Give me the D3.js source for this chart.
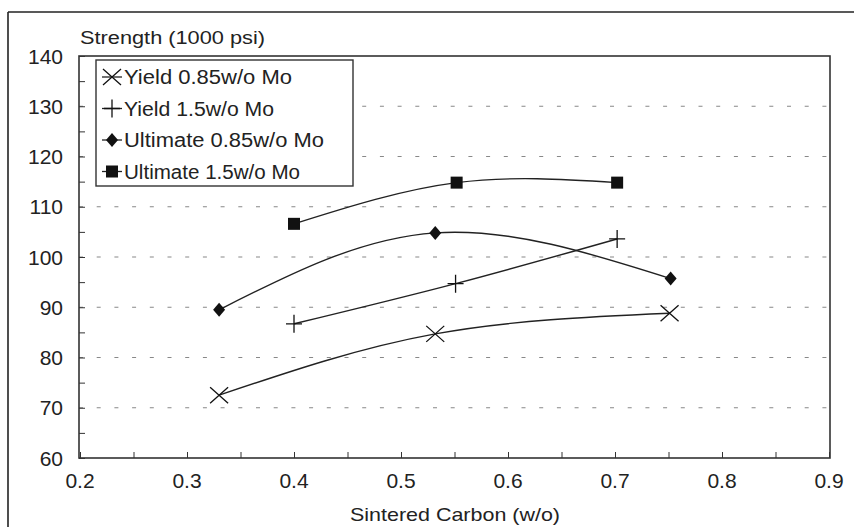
<!DOCTYPE html>
<html>
<head>
<meta charset="utf-8">
<script src="https://cdn.jsdelivr.net/npm/d3@7"></script>
<style>
  body { margin: 0; background: #fff; }
  svg { font-family: "Liberation Sans", Arial, sans-serif; }
</style>
</head>
<body>
<script>
// data
var seriesNames = ["Yield 0.85w/o Mo", "Yield 1.5w/o Mo", "Ultimate 0.85w/o Mo", "Ultimate 1.5w/o Mo"];
var seriesSymbols = ["x", "plus", "diamond", "square"];
var yield085 = [[0.33, 72.5], [0.532, 84.7], [0.751, 88.8]];
var yield15 = [[0.40, 86.7], [0.551, 94.7], [0.702, 103.6]];
var ult085 = [[0.33, 89.5], [0.532, 104.8], [0.752, 95.7]];
var ult15 = [[0.40, 106.6], [0.552, 114.8], [0.702, 114.8]];
var xTicks = [0.2, 0.3, 0.4, 0.5, 0.6, 0.7, 0.8, 0.9];
var yTicks = [60, 70, 80, 90, 100, 110, 120, 130, 140];

var width = 854, height = 527;
var plot = {left: 79, right: 830, top: 56, bottom: 458};

var svg = d3.select("body").append("svg")
  .attr("width", width)
  .attr("height", height);

var x = d3.scaleLinear().domain([0.2, 0.9]).range([80, 829]);
var y = d3.scaleLinear().domain([60, 140]).range([plot.bottom, plot.top]);

// outer frame (top and left only visible)
svg.append("line")
  .attr("x1", 8).attr("y1", 12).attr("x2", width).attr("y2", 12)
  .style("stroke", "#222").style("stroke-width", 1.6);
svg.append("line")
  .attr("x1", 8).attr("y1", 12).attr("x2", 8).attr("y2", height)
  .style("stroke", "#222").style("stroke-width", 1.6);

// dotted gridlines
svg.append("g")
  .selectAll("line")
  .data(yTicks.filter(function(d) { return d > 60 && d < 140; }))
  .enter()
  .append("line")
  .attr("x1", plot.left).attr("x2", plot.right)
  .attr("y1", d => y(d)).attr("y2", d => y(d))
  .style("stroke", "#888")
  .style("stroke-width", 1.2)
  .style("stroke-dasharray", "4,13.7");

// plot frame
svg.append("rect")
  .attr("x", plot.left).attr("y", plot.top)
  .attr("width", plot.right - plot.left)
  .attr("height", plot.bottom - plot.top)
  .style("fill", "none")
  .style("stroke", "#333")
  .style("stroke-width", 1.6);

// axes with inward ticks
var xAxis = d3.axisTop(x)
  .tickValues(d3.range(0.2, 0.9001, 0.05))
  .tickSize(6).tickFormat("");
svg.append("g")
  .attr("transform", "translate(0," + plot.bottom + ")")
  .call(xAxis)
  .call(g => g.select(".domain").remove())
  .selectAll("line").style("stroke", "#333");

var yAxis = d3.axisRight(y)
  .tickValues(d3.range(60, 140.001, 5))
  .tickSize(6).tickFormat("");
svg.append("g")
  .attr("transform", "translate(" + plot.left + ",0)")
  .call(yAxis)
  .call(g => g.select(".domain").remove())
  .selectAll("line").style("stroke", "#333");

// tick labels
svg.append("g")
  .selectAll("text")
  .data(xTicks)
  .enter()
  .append("text")
  .attr("x", d => x(d))
  .attr("y", 488)
  .attr("text-anchor", "middle")
  .style("font-size", "21px")
  .style("fill", "#222")
  .text(d3.format(".1f"));

svg.append("g")
  .selectAll("text")
  .data(yTicks)
  .enter()
  .append("text")
  .attr("x", 63)
  .attr("y", d => y(d))
  .attr("dy", "0.36em")
  .attr("text-anchor", "end")
  .style("font-size", "21px")
  .style("fill", "#222")
  .text(d => d);

// axis titles
svg.append("text")
  .attr("x", 80).attr("y", 44)
  .attr("textLength", 185)
  .attr("lengthAdjust", "spacingAndGlyphs")
  .style("font-size", "18px")
  .style("fill", "#222")
  .text("Strength (1000 psi)");

svg.append("text")
  .attr("x", 350).attr("y", 521)
  .attr("textLength", 210)
  .attr("lengthAdjust", "spacingAndGlyphs")
  .style("font-size", "19px")
  .style("fill", "#222")
  .text("Sintered Carbon (w/o)");

// symbols
function drawSymbol(g, kind, cx, cy) {
  if (kind === "x") {
    g.append("path")
      .attr("d", "M" + (cx - 9) + "," + (cy - 8) + "L" + (cx + 9) + "," + (cy + 8) +
                 "M" + (cx - 9) + "," + (cy + 8) + "L" + (cx + 9) + "," + (cy - 8))
      .style("stroke", "#111").style("stroke-width", 1.3).style("fill", "none");
  } else if (kind === "plus") {
    g.append("path")
      .attr("d", "M" + (cx - 8) + "," + cy + "L" + (cx + 8) + "," + cy +
                 "M" + cx + "," + (cy - 9) + "L" + cx + "," + (cy + 9))
      .style("stroke", "#111").style("stroke-width", 1.3).style("fill", "none");
  } else if (kind === "diamond") {
    g.append("path")
      .attr("d", "M" + cx + "," + (cy - 7) + "L" + (cx + 6) + "," + cy +
                 "L" + cx + "," + (cy + 7) + "L" + (cx - 6) + "," + cy + "Z")
      .style("fill", "#111");
  } else {
    g.append("rect")
      .attr("x", cx - 6).attr("y", cy - 6)
      .attr("width", 12).attr("height", 12)
      .style("fill", "#111");
  }
}

var allSeries = [yield085, yield15, ult085, ult15];

var line = d3.line()
  .x(d => x(d[0]))
  .y(d => y(d[1]))
  .curve(d3.curveNatural);

var seriesGroup = svg.append("g");
allSeries.forEach(function(s, i) {
  seriesGroup.append("path")
    .attr("d", line(s))
    .style("fill", "none")
    .style("stroke", "#222")
    .style("stroke-width", 1.4);
  s.forEach(function(p) {
    drawSymbol(seriesGroup, seriesSymbols[i], x(p[0]), y(p[1]));
  });
});

// legend
var legendWidths = [168, 150, 200, 176];
var legend = svg.append("g");
legend.append("rect")
  .attr("x", 96).attr("y", 60)
  .attr("width", 257).attr("height", 126)
  .style("fill", "#fff")
  .style("stroke", "#333")
  .style("stroke-width", 1.4);

seriesNames.forEach(function(name, i) {
  var cy = 77 + i * 31.5;
  legend.append("line")
    .attr("x1", 102).attr("x2", 122)
    .attr("y1", cy).attr("y2", cy)
    .style("stroke", "#222").style("stroke-width", 1.3);
  drawSymbol(legend, seriesSymbols[i], 112, cy);
  legend.append("text")
    .attr("x", 124).attr("y", cy)
    .attr("dy", "0.36em")
    .attr("textLength", legendWidths[i])
    .attr("lengthAdjust", "spacingAndGlyphs")
    .style("font-size", "20px")
    .style("fill", "#222")
    .text(name);
});
</script>
</body>
</html>
